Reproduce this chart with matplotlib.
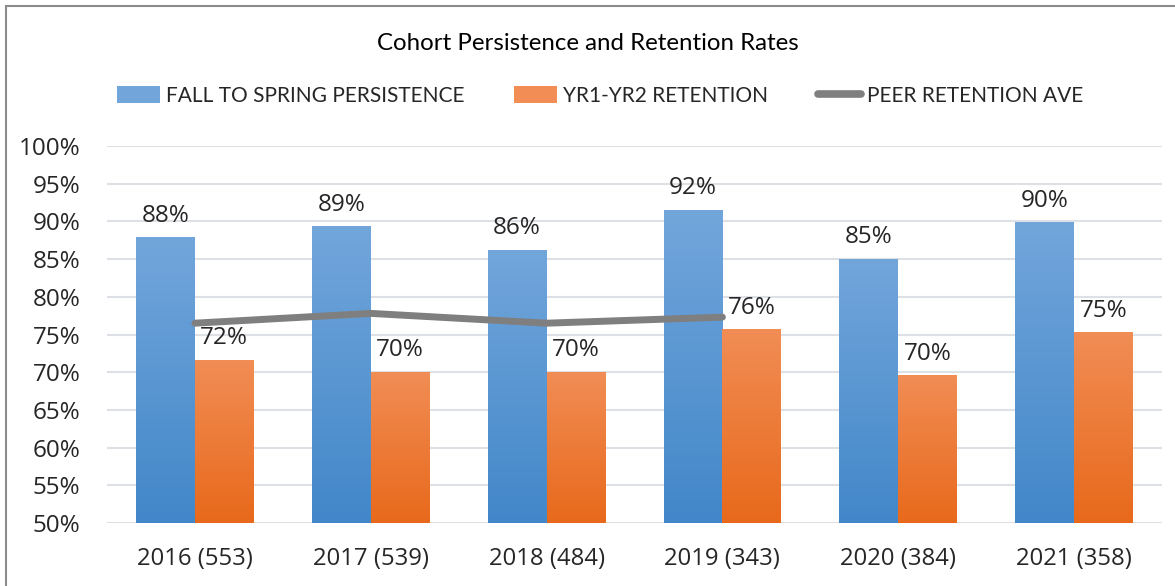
import numpy as np
import matplotlib
matplotlib.use("Agg")
import matplotlib.pyplot as plt
from matplotlib.colors import LinearSegmentedColormap
from matplotlib.lines import Line2D
from matplotlib.patches import Patch, Rectangle

# data
cohorts = ["2016 (553)", "2017 (539)", "2018 (484)", "2019 (343)", "2020 (384)", "2021 (358)"]
persistence = [87.8, 89.3, 86.2, 91.5, 85.0, 89.8]
retention = [71.6, 70.0, 70.0, 75.6, 69.5, 75.2]
peer_avg = [76.5, 77.8, 76.5, 77.3]   # only 2016-2019

labels_persist = ["88%", "89%", "86%", "92%", "85%", "90%"]
labels_retain = ["72%", "70%", "70%", "76%", "70%", "75%"]

blue_top, blue_bot = "#72A6DB", "#4287C9"
orange_top, orange_bot = "#F18D55", "#E8691B"
grey = "#7F7F7F"

num_font = "Open Sans"
txt_font = "Lato"

fig = plt.figure(figsize=(11.75, 5.86), dpi=100)
ax = fig.add_axes([107 / 1175, 1 - 523 / 586, (1162 - 107) / 1175, (523 - 146) / 586])

x = np.arange(len(cohorts))
w = 0.335
b1 = ax.bar(x - w / 2, np.array(persistence) - 50, w, bottom=50, color="none", zorder=2)
b2 = ax.bar(x + w / 2, np.array(retention) - 50, w, bottom=50, color="none", zorder=2)


def shade(bars, top, bot):
    cmap = LinearSegmentedColormap.from_list("g", [bot, top])
    grad = np.linspace(0, 1, 256).reshape(-1, 1)
    for p in bars:
        x0, y0 = p.get_x(), p.get_y()
        ax.imshow(grad, cmap=cmap, origin="lower", aspect="auto", zorder=2,
                  extent=(x0, x0 + p.get_width(), y0, y0 + p.get_height()))


shade(b1, blue_top, blue_bot)
shade(b2, orange_top, orange_bot)

ax.plot(x[:len(peer_avg)], peer_avg, color=grey, lw=5, solid_capstyle="round", zorder=4)

for bars, labs in ((b1, labels_persist), (b2, labels_retain)):
    for p, t in zip(bars, labs):
        ax.annotate(t, (p.get_x() + p.get_width() / 2, p.get_y() + p.get_height()),
                    xytext=(0, 7), textcoords="offset points", ha="center", va="bottom",
                    fontsize=17.5, family=num_font, color="#262626", zorder=5)

ax.set_xlim(-0.5, len(cohorts) - 0.5)
ax.set_ylim(50, 100)
ax.set_yticks(np.arange(50, 101, 5))
ax.set_yticklabels([f"{v}%" for v in range(50, 101, 5)], family=num_font, fontsize=17.5, color="#262626")
ax.set_xticks(x)
ax.set_xticklabels(cohorts, family=num_font, fontsize=17.2, color="#262626")
ax.tick_params(length=0)
ax.tick_params(axis="y", pad=19)
ax.tick_params(axis="x", pad=17)
ax.grid(axis="y", color="#DDE1E6", lw=1.5, zorder=0)
ax.set_axisbelow(True)
for s in ax.spines.values():
    s.set_visible(False)

fig.text(0.5, 1 - 43 / 586, "Cohort Persistence and Retention Rates", ha="center", va="center",
         fontsize=17.3, family=txt_font, color="black")

handles = [Patch(facecolor=blue_top, edgecolor="none"),
           Patch(facecolor=orange_top, edgecolor="none"),
           Line2D([], [], color=grey, lw=5.5, solid_capstyle="round")]
names = ["FALL TO SPRING PERSISTENCE", "YR1-YR2 RETENTION", "PEER RETENTION AVE"]
leg = fig.legend(handles, names, loc="center", bbox_to_anchor=(600 / 1175, 1 - 96 / 586), ncol=3,
                 frameon=False, prop={"family": txt_font, "size": 15}, handlelength=2.06,
                 handleheight=0.9, handletextpad=0.29, columnspacing=2.4)
for t in leg.get_texts():
    t.set_color("#262626")

fig.add_artist(Rectangle((6 / 1175, -0.05), 1.2, 1 - 6 / 586 + 0.05, transform=fig.transFigure,
                         fill=False, edgecolor="#8C8C8C", lw=1.5))

fig.savefig("out.png", dpi=100)
